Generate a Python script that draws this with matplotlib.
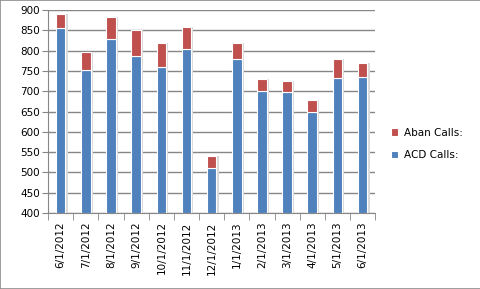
import numpy as np
import matplotlib.pyplot as plt
from matplotlib.patches import Rectangle

# Monthly call data
months = ['6/1/2012', '7/1/2012', '8/1/2012', '9/1/2012', '10/1/2012', '11/1/2012',
          '12/1/2012', '1/1/2013', '2/1/2013', '3/1/2013', '4/1/2013', '5/1/2013', '6/1/2013']
acd_calls = [855, 752, 830, 786, 760, 803, 510, 780, 701, 697, 648, 733, 734]
aban_calls = [35, 45, 52, 64, 60, 55, 30, 38, 29, 28, 30, 46, 35]

blue = '#4F81BD'
red = '#C0504D'
grid_col = '#868686'

fig = plt.figure(figsize=(4.81, 2.89), dpi=100)
fig.patches.append(Rectangle((0, 0), 1, 1, transform=fig.transFigure,
                             fill=False, edgecolor='#8c8c8c', linewidth=1.2))
ax = fig.add_axes([0.1, 0.263, 0.68, 0.702])

x = np.arange(len(months))
w = 0.38
bottom_val = 400
acd_h = np.array(acd_calls) - bottom_val
# faint shadow behind bars
ax.bar(x + 0.06, acd_h + np.array(aban_calls), w + 0.05, bottom=bottom_val,
       color='#d9d9d9', zorder=2)
ax.bar(x, acd_h, w, bottom=bottom_val, color=blue, edgecolor='white',
       linewidth=0.8, zorder=3, label='ACD Calls:')
ax.bar(x, aban_calls, w, bottom=acd_calls, color=red, edgecolor='white',
       linewidth=0.8, zorder=3, label='Aban Calls:')

ax.set_ylim(400, 900)
ax.set_xlim(-0.5, len(months) - 0.5)
ax.set_yticks(np.arange(400, 901, 50))
ax.yaxis.grid(True, color=grid_col, linewidth=1)
ax.set_axisbelow(True)

ax.set_xticks(x)
ax.set_xticklabels(months, rotation=90, fontsize=7.5)
ax.tick_params(axis='x', length=0, pad=6)
ax.set_xticks(np.arange(-0.5, len(months)), minor=True)
ax.tick_params(axis='x', which='minor', length=5, color=grid_col)
ax.tick_params(axis='y', labelsize=7.5, length=4, color=grid_col, pad=2)

for s in ['top', 'right']:
    ax.spines[s].set_visible(False)
for s in ['left', 'bottom']:
    ax.spines[s].set_color(grid_col)

handles, labels = ax.get_legend_handles_labels()
ax.legend(handles[::-1], labels[::-1], loc='center left', bbox_to_anchor=(1.02, 0.34),
          frameon=False, fontsize=7.5, handlelength=0.7, handleheight=0.7,
          handletextpad=0.5, labelspacing=1.2)

fig.savefig('out.png', dpi=100)
